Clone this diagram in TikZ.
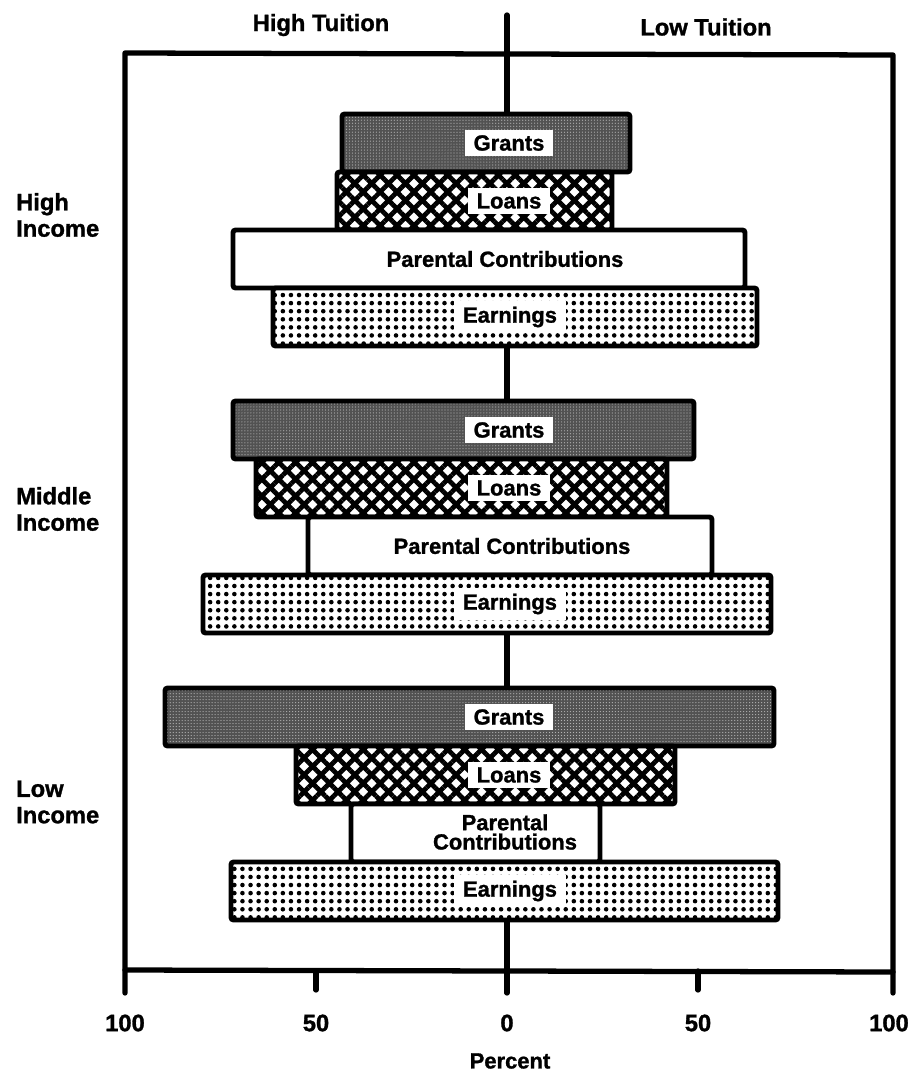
\documentclass[tikz,border=0pt]{standalone}
\usepackage{fontspec}
\setmainfont{Liberation Sans}[BoldFeatures={FakeBold=1.2}]
\usetikzlibrary{patterns.meta}
\tikzset{
  frameline/.style={line width=3pt,line cap=round,line join=round},
  barbox/.style={draw=black,line width=2.8pt,rounded corners=1.5pt},
  grantbar/.style={barbox,preaction={fill=black!68},pattern={Dots[radius=0.35pt,distance=1.7pt]},pattern color=black!30},
  loanbar/.style={barbox,preaction={fill=white},pattern={Hatch[angle=45,distance=6.8pt,line width=2.7pt]}},
  parentbar/.style={barbox,fill=white},
  earnbar/.style={barbox,preaction={fill=white},pattern={Dots[radius=1.3pt,distance=4.6pt]}},
  barlabel/.style={fill=white,inner xsep=5pt,inner ysep=3pt,font=\fontsize{12.5}{14}\selectfont\bfseries,align=center},
  headlabel/.style={font=\fontsize{13.5}{15}\selectfont\bfseries},
  rowlabel/.style={headlabel,anchor=west,align=left},
  ticklabel/.style={font=\fontsize{13.5}{15}\selectfont\bfseries}
}
\begin{document}
\begin{tikzpicture}[x=0.02cm,y=-0.02cm]
  \useasboundingbox (0,0) rectangle (912,1079);
  % axis frame and centre line
  \draw[frameline] (507,15) -- (507,993);
  \draw[frameline] (125,993) -- (125,53) -- (893,55) -- (893,993);
  \draw[frameline] (125,970) -- (893,972);
  \foreach \x in {316,698}
    \draw[frameline] (\x,971) -- (\x,990);
  \node[headlabel] (hightuition) at (321,25) {High Tuition};
  \node[headlabel] (lowtuition) at (706,27) {Low Tuition};
  \foreach \x/\t/\n in {125/100/a,316/50/b,507/0/c,698/50/d,889/100/e}
    \node[ticklabel] (tick\n) at (\x,1023) {\t};
  \node[headlabel,font=\fontsize{12.5}{14}\selectfont\bfseries] (percent) at (510,1061) {Percent};
  % income groups: top, then left/right ends of each bar
  \foreach \g/\yt/\ga/\gb/\la/\lb/\pa/\pb/\ea/\eb in {
      hi/114/342/630/337/612/233/745/273/757,
      mid/401/233/694/256/667/308/712/203/771,
      low/688/165/774/296/675/351/600/231/778}{
    \draw[grantbar] (\ga,\yt) rectangle (\gb,\yt+58);
    \draw[loanbar] (\la,\yt+58) rectangle (\lb,\yt+116);
    \draw[parentbar] (\pa,\yt+116) rectangle (\pb,\yt+174);
    \draw[earnbar] (\ea,\yt+174) rectangle (\eb,\yt+232);
    \node[barlabel] (\g grants) at (509,\yt+29) {Grants};
    \node[barlabel] (\g loans) at (509,\yt+87) {Loans};
    \node[barlabel] (\g earnings) at (510,\yt+203) {Earnings};
  }
  \node[barlabel,fill=none] (hiparent) at (505,259) {Parental Contributions};
  \node[barlabel,fill=none] (midparent) at (512,546) {Parental Contributions};
  \node[barlabel,fill=none] (lowparent) at (505,832) {Parental\\[-3pt]Contributions};
  \node[rowlabel] (highincome) at (10,215) {High\\Income};
  \node[rowlabel] (middleincome) at (10,509) {Middle\\Income};
  \node[rowlabel] (lowincome) at (10,802) {Low\\Income};
\end{tikzpicture}
\end{document}
